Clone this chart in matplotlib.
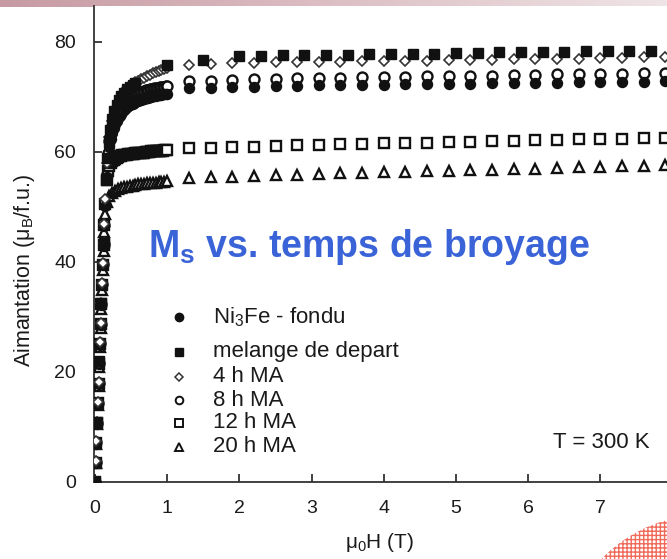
import numpy as np
import matplotlib
matplotlib.use("Agg")
import matplotlib.pyplot as plt
from matplotlib.patches import Ellipse
from matplotlib.colors import LinearSegmentedColormap

plt.rcParams['font.family'] = ['Liberation Sans', 'DejaVu Sans']
plt.rcParams['mathtext.fontset'] = 'custom'
plt.rcParams['mathtext.rm'] = 'Liberation Sans'
plt.rcParams['mathtext.it'] = 'Liberation Sans:italic'
plt.rcParams['mathtext.bf'] = 'Liberation Sans:bold'

# ---- field values (T) ----
H_STEEP = [0.00, 0.01, 0.02, 0.03, 0.04, 0.05, 0.06, 0.07, 0.08, 0.09, 0.10, 0.11,
           0.12, 0.13, 0.14]
H_KNEE = [0.16, 0.18, 0.20, 0.22, 0.24, 0.26, 0.28, 0.30, 0.32, 0.34, 0.36, 0.38,
          0.40, 0.42, 0.44, 0.46, 0.48, 0.50, 0.52, 0.54, 0.56, 0.58, 0.60, 0.62,
          0.64, 0.66, 0.68, 0.70, 0.72, 0.74, 0.76, 0.78, 0.80, 0.82, 0.84, 0.86,
          0.88, 0.90, 0.92, 0.94, 0.96, 0.98, 1.00]
H_KNEE_COARSE = [0.16, 0.20, 0.24, 0.28, 0.32, 0.36, 0.40, 0.44, 0.48, 0.52, 0.56,
                 0.60, 0.64, 0.68, 0.72, 0.76, 0.80, 0.84, 0.88, 0.92, 0.96, 1.00]
H_HIGH = [1.3, 1.6, 1.9, 2.2, 2.5, 2.8, 3.1, 3.4, 3.7, 4.0, 4.3, 4.6, 4.9, 5.2,
          5.5, 5.8, 6.1, 6.4, 6.7, 7.0, 7.3, 7.6, 7.9, 8.2]
H_MEL = [0.00, 0.03, 0.06, 0.09, 0.12, 0.15, 0.17, 0.19, 0.21, 0.24, 0.27, 0.30,
         0.33, 0.36, 0.40, 0.44, 0.48, 0.52, 0.56,
         1.0, 1.5, 2.0, 2.3, 2.6, 2.9, 3.2, 3.5, 3.8, 4.1, 4.4, 4.7, 5.0, 5.3, 5.6,
         5.9, 6.2, 6.5, 6.8, 7.1, 7.4, 7.7, 8.0, 8.3]

# ---- magnetisation (muB / f.u.) ----
# Ni3Fe - fondu
M_FONDU_STEEP = [0.0, 3.4, 7.0, 10.6, 14.2, 17.8, 21.4, 25.0, 28.6, 32.2, 35.8, 39.4,
                 43.0, 46.6, 50.2]
M_FONDU_KNEE = [55.5, 59.0, 61.0, 62.4, 63.5, 64.4, 65.1, 65.7, 66.2, 66.6,
                67.0, 67.3, 67.6, 67.9, 68.1, 68.3, 68.5, 68.7, 68.8, 69.0,
                69.1, 69.2, 69.3, 69.4, 69.5, 69.6, 69.7, 69.8, 69.8, 69.9,
                70.0, 70.0, 70.1, 70.2, 70.2, 70.3, 70.3, 70.4, 70.4, 70.5,
                70.5, 70.6, 70.6]
M_FONDU_HIGH = [71.6, 71.7, 71.8, 71.9, 72.0, 72.0, 72.1, 72.1, 72.2, 72.2, 72.3, 72.3,
                72.4, 72.4, 72.5, 72.5, 72.6, 72.6, 72.7, 72.7, 72.8, 72.8, 72.9, 72.9]

# melange de depart
M_MEL = [0.0, 11.0, 22.0, 32.5, 43.5, 55.0, 59.0, 62.0, 64.0, 66.0, 67.4, 68.5,
         69.4, 70.1, 70.8, 71.4, 71.8, 72.2, 72.5,
         75.8, 76.7, 77.4, 77.5, 77.6, 77.6, 77.7, 77.7, 77.8, 77.8, 77.9, 77.9,
         78.0, 78.0, 78.1, 78.1, 78.2, 78.2, 78.3, 78.3, 78.4, 78.4, 78.5, 78.5]

# 4 h MA
M_4H_STEEP = [0.0, 3.8, 7.4, 11.0, 14.6, 18.2, 21.8, 25.4, 29.0, 32.6, 36.2, 39.8,
              43.4, 47.0, 51.5]
M_4H_KNEE = [58.0, 62.8, 65.6, 67.3, 68.6, 69.8, 71.0, 71.6, 72.0, 72.4, 72.7,
             73.0, 73.3, 73.5, 73.8, 74.0, 74.3, 74.5, 74.7, 74.9, 75.1, 75.3]
M_4H_HIGH = [75.8, 76.0, 76.1, 76.2, 76.3, 76.3, 76.4, 76.4, 76.5, 76.5, 76.6, 76.6,
             76.7, 76.7, 76.8, 76.9, 76.9, 77.0, 77.0, 77.1, 77.1, 77.2, 77.2, 77.3]

# 8 h MA
M_8H_STEEP = [0.0, 3.6, 7.2, 10.8, 14.4, 18.0, 21.6, 25.2, 28.8, 32.4, 36.0, 39.6,
              43.2, 46.8, 50.4]
M_8H_KNEE = [56.0, 59.8, 62.0, 63.5, 64.7, 65.6, 66.4, 67.0, 67.5, 67.9,
             68.3, 68.7, 69.0, 69.3, 69.5, 69.7, 69.9, 70.1, 70.2, 70.4,
             70.5, 70.6, 70.7, 70.8, 70.9, 71.0, 71.1, 71.2, 71.2, 71.3,
             71.4, 71.4, 71.5, 71.6, 71.6, 71.7, 71.7, 71.8, 71.8, 71.9,
             71.9, 72.0, 72.0]
M_8H_HIGH = [72.9, 73.0, 73.1, 73.2, 73.3, 73.4, 73.5, 73.5, 73.6, 73.7, 73.7, 73.8,
             73.8, 73.9, 73.9, 74.0, 74.0, 74.1, 74.1, 74.2, 74.2, 74.3, 74.3, 74.4]

# 12 h MA
M_12H_STEEP = [0.0, 3.5, 7.1, 10.7, 14.3, 17.9, 21.5, 25.1, 28.7, 32.3, 35.9, 39.5,
               43.1, 46.7, 50.5]
M_12H_KNEE = [55.0, 56.6, 57.5, 58.0, 58.4, 58.6, 58.8, 59.0, 59.1, 59.2,
              59.3, 59.4, 59.4, 59.5, 59.5, 59.6, 59.6, 59.7, 59.7, 59.7,
              59.8, 59.8, 59.8, 59.9, 59.9, 59.9, 59.9, 60.0, 60.0, 60.0,
              60.0, 60.1, 60.1, 60.1, 60.1, 60.2, 60.2, 60.2, 60.2, 60.2,
              60.3, 60.3, 60.3]
M_12H_HIGH = [60.7, 60.8, 60.9, 61.0, 61.1, 61.2, 61.3, 61.4, 61.5, 61.6, 61.6, 61.7,
              61.8, 61.9, 62.0, 62.0, 62.1, 62.2, 62.3, 62.3, 62.4, 62.5, 62.5, 62.6]

# 20 h MA
M_20H_STEEP = [0.0, 3.5, 7.0, 10.5, 14.0, 17.5, 21.0, 24.5, 28.0, 31.5, 35.0, 38.5,
               42.0, 45.5, 48.8]
M_20H_KNEE = [51.0, 52.0, 52.5, 52.9, 53.2, 53.4, 53.6, 53.7, 53.8, 53.9, 54.0,
              54.1, 54.1, 54.2, 54.3, 54.3, 54.4, 54.4, 54.5, 54.5, 54.6, 54.7]
M_20H_HIGH = [55.2, 55.4, 55.5, 55.6, 55.8, 55.9, 56.0, 56.1, 56.2, 56.3, 56.4, 56.5,
              56.6, 56.7, 56.8, 56.9, 57.0, 57.1, 57.2, 57.3, 57.4, 57.5, 57.6, 57.7]

LEGEND_LABELS = ['Ni$_3$Fe - fondu', 'melange de depart', '4 h MA', '8 h MA',
                 '12 h MA', '20 h MA']
X_TICKS = [0, 1, 2, 3, 4, 5, 6, 7, 8]
Y_TICKS = [0, 20, 40, 60, 80]

W, H = 667, 559
fig = plt.figure(figsize=(W / 100, H / 100), dpi=100)
fig.patch.set_facecolor('white')


def fx(px):
    return px / W


def fy(py):
    return 1 - py / H


# slide header strip
grad = np.linspace(0, 1, 256)[None, :]
hdr = fig.add_axes([0, fy(7), 1, 7 / H])
hdr_cmap = LinearSegmentedColormap.from_list('hdr', ['#c79aa3', '#dcbfc4', '#efe4e6'])
hdr.imshow(grad, aspect='auto', cmap=hdr_cmap, extent=[0, 1, 0, 1])
hdr.set_axis_off()

# main axes (x = 0 at 95 px, 72.2 px per tesla; y = 0 at 482 px, 5.5 px per unit)
x0_px, y0_px = 95, 482
px_per_T, px_per_M = 72.2, 5.5
xmin, xmax = -0.01, 8.6
ymin, ymax = 0, (y0_px - 6) / px_per_M
left = x0_px + xmin * px_per_T
ax = fig.add_axes([fx(left), fy(y0_px), (xmax - xmin) * px_per_T / W,
                   (ymax - ymin) * px_per_M / H])
ax.set_xlim(xmin, xmax)
ax.set_ylim(ymin, ymax)

ink = '#111111'
h_dense = H_STEEP + H_KNEE + H_HIGH
h_sparse = H_STEEP + H_KNEE_COARSE + H_HIGH
ax.plot(h_dense, M_8H_STEEP + M_8H_KNEE + M_8H_HIGH, ls='none', marker='o', ms=7.2,
        mfc='white', mec=ink, mew=1.7, zorder=3)
ax.plot(h_dense, M_FONDU_STEEP + M_FONDU_KNEE + M_FONDU_HIGH, ls='none', marker='o',
        ms=7.2, mfc=ink, mec=ink, mew=1.0, zorder=4)
ax.plot(h_dense, M_12H_STEEP + M_12H_KNEE + M_12H_HIGH, ls='none', marker='s', ms=7.2,
        mfc='white', mec=ink, mew=1.7, zorder=3)
ax.plot(h_sparse, M_20H_STEEP + M_20H_KNEE + M_20H_HIGH, ls='none', marker='^',
        ms=7.5, mfc='white', mec=ink, mew=1.7, zorder=3)
ax.plot(h_sparse, M_4H_STEEP + M_4H_KNEE + M_4H_HIGH, ls='none', marker='D', ms=5.6,
        mfc='white', mec='#333333', mew=1.2, zorder=4)
ax.plot(H_MEL, M_MEL, ls='none', marker='s', ms=7.2, mfc=ink, mec=ink, mew=1.0,
        zorder=5)

for side in ('top', 'right'):
    ax.spines[side].set_visible(False)
for side in ('left', 'bottom'):
    ax.spines[side].set_linewidth(1.3)
    ax.spines[side].set_color('#333333')
ax.set_xticks(X_TICKS)
ax.set_yticks(Y_TICKS)
ax.tick_params(direction='in', length=6, width=1.3, color='#333333',
               labelsize=14, labelcolor='#1a1a1a')
ax.tick_params(axis='x', pad=13)
ax.tick_params(axis='y', pad=13)

# axis titles
fig.text(fx(380), fy(542), 'μ$_0$H (T)', ha='center', va='center', fontsize=15,
         color='#1a1a1a')
fig.text(fx(25), fy(270), 'Aimantation (μ$_\\mathrm{B}$/f.u.)', rotation=90,
         ha='center', va='center', fontsize=15.5, color='#1a1a1a')

# headline
fig.text(fx(148), fy(247), 'M$_\\mathbf{s}$ vs. temps de broyage', ha='left',
         va='center', fontsize=27, fontweight='bold', color='#3a63d8')

# legend
leg_marker_x = 179
leg_text_x = 213
leg_rows = [317, 352, 377, 400, 423, 447]
leg_styles = [dict(marker='o', mfc=ink, mec=ink, ms=6, mew=1.0),
              dict(marker='s', mfc=ink, mec=ink, ms=5.5, mew=1.0),
              dict(marker='D', mfc='white', mec='#333333', ms=4.5, mew=1.1),
              dict(marker='o', mfc='white', mec=ink, ms=5.5, mew=1.4),
              dict(marker='s', mfc='white', mec=ink, ms=5.5, mew=1.4),
              dict(marker='^', mfc='white', mec=ink, ms=5.5, mew=1.4)]
for row_y, style, label in zip(leg_rows, leg_styles, LEGEND_LABELS):
    fig.add_artist(plt.Line2D([fx(leg_marker_x)], [fy(row_y)], ls='none',
                              transform=fig.transFigure, **style))
    fig.text(fx(leg_text_x), fy(row_y), label, ha='left', va='center',
             fontsize=16, color='#1a1a1a')

fig.text(fx(553), fy(442), 'T = 300 K', ha='left', va='center', fontsize=16,
         color='#1a1a1a')

# corner ornament
orn = Ellipse((fx(705), fy(650)), width=2 * 140 / W, height=2 * 135 / H,
              transform=fig.transFigure, facecolor='none', edgecolor='#f06a5a',
              hatch='++++', lw=0, zorder=0)
fig.add_artist(orn)

fig.savefig('out.png', dpi=100)
